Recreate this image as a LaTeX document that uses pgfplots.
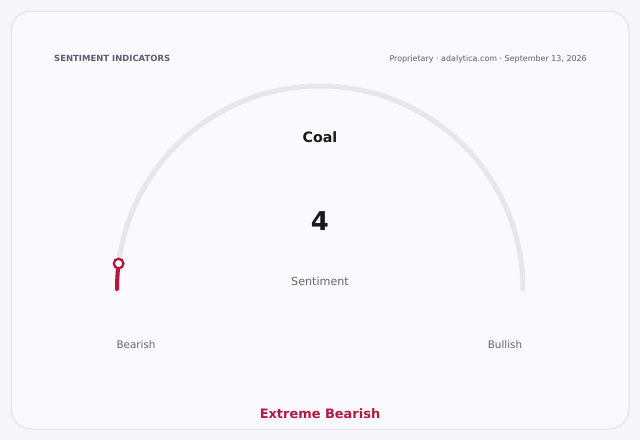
\documentclass[border=0pt]{standalone}
\usepackage{pgfplots}
\usepackage{pgfplotstable}
\pgfplotsset{compat=1.18}
\usepackage{fontspec}
\setmainfont{DejaVu Sans}

\definecolor{pagebg}{HTML}{F7F7FB}
\definecolor{cardbg}{HTML}{FAFAFE}
\definecolor{cardline}{HTML}{DEDEE8}
\definecolor{track}{HTML}{E6E6EC}
\definecolor{bear}{HTML}{B5173F}
\definecolor{titlegray}{HTML}{5E5E72}
\definecolor{labelgray}{HTML}{66666E}

% gauge reading, 0 = bearish ... 100 = bullish; radius in px
\pgfplotstableread{
value radius
4 203
}\gaugedata

\begin{document}
\begin{tikzpicture}
\begin{axis}[
    anchor=origin, at={(0,0)},
    x=1bp, y=1bp, y dir=reverse,
    xmin=0, xmax=640, ymin=0, ymax=440,
    hide axis, clip=false,
    scale only axis,
]
% background and card
\fill[pagebg] (axis cs:0,0) rectangle (axis cs:640,440);
\draw[cardline, fill=cardbg, line width=1bp, rounded corners=20bp]
    (axis cs:11,11) rectangle (axis cs:629,429);

% header
\node[anchor=base west, inner sep=0pt, text=titlegray, font=\fontsize{8.5}{10}\selectfont\bfseries]
    at (axis cs:54,61) {SENTIMENT INDICATORS};
\node[anchor=base east, inner sep=0pt, text=titlegray, font=\fontsize{8}{10}\selectfont]
    at (axis cs:587,61) {Proprietary · adalytica.com · September 13, 2026};

% track
\draw[track, line width=5bp, line cap=round]
    (axis cs:523,289) arc[start angle=0, end angle=180, radius=203bp];
% value arc
\draw[bear, line width=4bp, line cap=round]
    (axis cs:117,289) arc[start angle=180, end angle=172.8, radius=203bp];
% needle head
\addplot[only marks, mark=*, mark size=4.8bp,
    mark options={draw=bear, fill=white, line width=2.3bp}]
    table[x expr={320+\thisrow{radius}*cos(180-1.8*\thisrow{value})},
          y expr={289-\thisrow{radius}*sin(180-1.8*\thisrow{value})}] {\gaugedata};

% texts
\node[font=\fontsize{14.3}{16}\selectfont\bfseries, text=black!90]
    at (axis cs:320,137) {Coal};
\node[font=\fontsize{26}{30}\selectfont\bfseries, text=black!90]
    at (axis cs:320,221) {4};
\node[font=\fontsize{11.2}{13}\selectfont, text=labelgray]
    at (axis cs:320,281) {Sentiment};
\node[font=\fontsize{10.4}{12}\selectfont, text=labelgray]
    at (axis cs:136,345) {Bearish};
\node[font=\fontsize{10.4}{12}\selectfont, text=labelgray]
    at (axis cs:505,345) {Bullish};
\node[font=\fontsize{13}{15}\selectfont\bfseries, text=bear]
    at (axis cs:320,414) {Extreme Bearish};
\end{axis}
\end{tikzpicture}
\end{document}
